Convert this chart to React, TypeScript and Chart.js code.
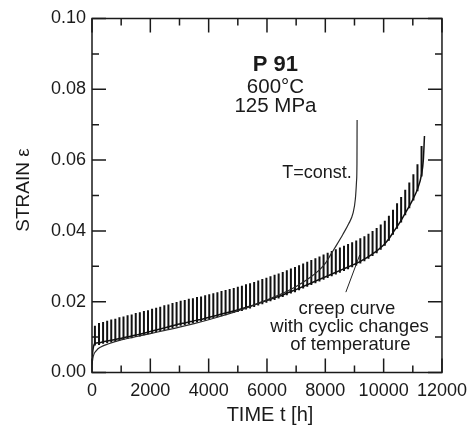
import React, { useEffect, useRef } from "react";
import { Chart, registerables } from "chart.js";

Chart.register(...registerables);

// ---- data (time in h, strain) ----
const constTime = [0, 40, 150, 300, 600, 1000, 1500, 2000, 2500, 3000, 3500, 4000, 4500, 5000, 5500, 6000, 6500, 7000, 7500, 7800, 8000, 8200, 8400, 8600, 8800, 8950, 9030, 9070, 9085, 9090];
const constStrain = [0.0022, 0.0045, 0.0062, 0.0072, 0.0082, 0.0092, 0.0101, 0.011, 0.0119, 0.0128, 0.0138, 0.0149, 0.0161, 0.0174, 0.0189, 0.0205, 0.0222, 0.0243, 0.027, 0.029, 0.0308, 0.0335, 0.0362, 0.039, 0.042, 0.045, 0.049, 0.054, 0.059, 0.0713];

const cycleTime = [
  100, 240, 380, 520, 660, 800, 940, 1080, 1220, 1360,
  1500, 1640, 1780, 1920, 2060, 2200, 2340, 2480, 2620, 2760,
  2900, 3040, 3180, 3320, 3460, 3600, 3740, 3880, 4020, 4160,
  4300, 4440, 4580, 4720, 4860, 5000, 5140, 5280, 5420, 5560,
  5700, 5840, 5980, 6120, 6260, 6400, 6540, 6680, 6820, 6960,
  7100, 7240, 7380, 7520, 7660, 7800, 7940, 8080, 8220, 8360,
  8500, 8640, 8780, 8920, 9060, 9200, 9340, 9480, 9620, 9760,
  9900, 10040, 10180, 10320, 10460, 10600, 10740, 10880, 11020, 11160,
  11300,
];
const cycleBase = [
  0.0082, 0.0084, 0.0087, 0.0089, 0.0091, 0.0093, 0.0096, 0.0098, 0.0101, 0.0103,
  0.0106, 0.0108, 0.0111, 0.0114, 0.0117, 0.012, 0.0123, 0.0126, 0.0129, 0.0132,
  0.0135, 0.0138, 0.014, 0.0143, 0.0145, 0.0148, 0.015, 0.0153, 0.0156, 0.0159,
  0.0162, 0.0165, 0.0168, 0.0171, 0.0174, 0.0177, 0.018, 0.0184, 0.0187, 0.0191,
  0.0195, 0.0199, 0.0203, 0.0207, 0.0211, 0.0215, 0.0219, 0.0224, 0.0229, 0.0233,
  0.0238, 0.0243, 0.0248, 0.0253, 0.0258, 0.0263, 0.0268, 0.0273, 0.0278, 0.0283,
  0.0288, 0.0293, 0.0298, 0.0303, 0.0308, 0.0314, 0.032, 0.0327, 0.0335, 0.0343,
  0.0353, 0.0364, 0.0378, 0.0395, 0.0412, 0.043, 0.045, 0.047, 0.0492, 0.0518,
  0.056,
];
const cycleTop = [
  0.0132, 0.014, 0.0143, 0.0146, 0.015, 0.0152, 0.0156, 0.0158, 0.0162, 0.0164,
  0.0168, 0.017, 0.0174, 0.0176, 0.018, 0.0183, 0.0186, 0.019, 0.0192, 0.0196,
  0.0199, 0.0203, 0.0205, 0.0208, 0.021, 0.0213, 0.0215, 0.0218, 0.0221, 0.0224,
  0.0227, 0.023, 0.0233, 0.0236, 0.0239, 0.0242, 0.0245, 0.0249, 0.0252, 0.0256,
  0.026, 0.0264, 0.0268, 0.0272, 0.0276, 0.028, 0.0284, 0.0289, 0.0294, 0.0298,
  0.0303, 0.0308, 0.0313, 0.0318, 0.0323, 0.0328, 0.0333, 0.0338, 0.0343, 0.0348,
  0.0353, 0.0358, 0.0363, 0.0368, 0.0373, 0.0379, 0.0385, 0.0392, 0.04, 0.0408,
  0.0418, 0.0429, 0.0443, 0.046, 0.0478, 0.0496, 0.0516, 0.0537, 0.056, 0.0588,
  0.064,
];
const cycleStartTime = [0, 40];
const cycleStartStrain = [0.004, 0.0068];
const cycleEndTime = [11360, 11400];
const cycleEndStrain = [0.06, 0.0668];

const pointerTime = [8704, 9180];
const pointerStrain = [0.0227, 0.0332];

const xTicks = [0, 2000, 4000, 6000, 8000, 10000, 12000];
const yTicks = [0, 0.02, 0.04, 0.06, 0.08, 0.1];

const annotations = [
  { text: "P 91", t: 6290, s: 0.0869, bold: true, size: 22, align: "center" },
  { text: "600°C", t: 6290, s: 0.0806, bold: false, size: 20.5, align: "center" },
  { text: "125 MPa", t: 6290, s: 0.0751, bold: false, size: 20.5, align: "center" },
  { text: "T=const.", t: 8908, s: 0.0563, bold: false, size: 18, align: "right" },
  { text: "creep curve", t: 8738, s: 0.0181, bold: false, size: 18.5, align: "center" },
  { text: "with cyclic changes", t: 8830, s: 0.0129, bold: false, size: 18.5, align: "center" },
  { text: "of temperature", t: 8860, s: 0.0078, bold: false, size: 18.5, align: "center" },
];

const FONT = "'Liberation Sans', Arial, Helvetica, sans-serif";
const INK = "#1a1a1a";

const framePlugin = {
  id: "frame",
  afterDraw(chart: any) {
    const { ctx, chartArea: a, scales } = chart;
    const xs = scales.x;
    const ys = scales.y;
    ctx.save();
    ctx.strokeStyle = INK;
    ctx.lineWidth = 1.5;
    ctx.strokeRect(a.left, a.top, a.right - a.left, a.bottom - a.top);
    // inward ticks
    ctx.beginPath();
    for (let v = 0; v <= 12000; v += 1000) {
      const px = xs.getPixelForValue(v);
      const len = v % 2000 === 0 ? 14 : 7;
      ctx.moveTo(px, a.bottom);
      ctx.lineTo(px, a.bottom - len);
      ctx.moveTo(px, a.top);
      ctx.lineTo(px, a.top + len);
    }
    for (let i = 0; i <= 10; i++) {
      const py = ys.getPixelForValue(i * 0.01);
      const len = i % 2 === 0 ? 14 : 7;
      ctx.moveTo(a.left, py);
      ctx.lineTo(a.left + len, py);
      ctx.moveTo(a.right, py);
      ctx.lineTo(a.right - len, py);
    }
    ctx.stroke();

    // annotations
    ctx.fillStyle = INK;
    ctx.textBaseline = "middle";
    for (const an of annotations) {
      ctx.font = `${an.bold ? "bold " : ""}${an.size}px ${FONT}`;
      ctx.textAlign = an.align as CanvasTextAlign;
      ctx.fillText(an.text, xs.getPixelForValue(an.t), ys.getPixelForValue(an.s));
    }
    // axis titles
    ctx.font = `20px ${FONT}`;
    ctx.textAlign = "center";
    ctx.fillText("TIME t [h]", (a.left + a.right) / 2 + 3, a.bottom + 43);
    ctx.save();
    ctx.translate(24, 190);
    ctx.rotate(-Math.PI / 2);
    ctx.font = `19px ${FONT}`;
    ctx.fillText("STRAIN ε", 0, 0);
    ctx.restore();
    ctx.restore();
  },
};

export default function App() {
  const ref = useRef<HTMLCanvasElement | null>(null);
  useEffect(() => {
    if (!ref.current) return;
    const constData = constTime.map((t, i) => ({ x: t, y: constStrain[i] }));
    const baseData: { x: number; y: number }[] = [];
    cycleStartTime.forEach((t, i) => baseData.push({ x: t, y: cycleStartStrain[i] }));
    cycleTime.forEach((t, i) => baseData.push({ x: t, y: cycleBase[i] }));
    cycleEndTime.forEach((t, i) => baseData.push({ x: t, y: cycleEndStrain[i] }));
    const spikeData: { x: number; y: number | null }[] = [];
    cycleTime.forEach((t, i) => {
      spikeData.push({ x: t, y: cycleBase[i] - 0.0006 });
      spikeData.push({ x: t, y: cycleTop[i] });
      spikeData.push({ x: t, y: null });
    });
    const pointerData = pointerTime.map((t, i) => ({ x: t, y: pointerStrain[i] }));

    const chart = new Chart(ref.current, {
      type: "line",
      data: {
        datasets: [
          {
            data: constData,
            borderColor: "#2a2a2a",
            borderWidth: 1.2,
            pointRadius: 0,
            cubicInterpolationMode: "monotone",
          },
          {
            data: baseData,
            borderColor: "#111",
            borderWidth: 1.5,
            pointRadius: 0,
            cubicInterpolationMode: "monotone",
          },
          {
            data: spikeData as any,
            borderColor: "#111",
            borderWidth: 2,
            pointRadius: 0,
            tension: 0,
            spanGaps: false,
          },
          {
            data: pointerData,
            borderColor: "#222",
            borderWidth: 1,
            pointRadius: 0,
            tension: 0,
          },
        ],
      },
      options: {
        animation: false,
        responsive: false,
        layout: { padding: { top: 18.5, right: 30, left: 0, bottom: 0 } },
        plugins: { legend: { display: false }, tooltip: { enabled: false } },
        scales: {
          x: {
            type: "linear",
            min: 0,
            max: 12000,
            afterFit: (s: any) => {
              s.height = 56.5;
            },
            afterBuildTicks: (s: any) => {
              s.ticks = xTicks.map((v) => ({ value: v }));
            },
            grid: { display: false, drawTicks: false },
            border: { display: false },
            ticks: {
              padding: 8,
              maxRotation: 0,
              autoSkip: false,
              color: INK,
              font: { family: FONT, size: 18 },
              callback: (v: any) => String(v),
            },
          },
          y: {
            type: "linear",
            min: 0,
            max: 0.1,
            afterFit: (s: any) => {
              s.width = 92;
            },
            afterBuildTicks: (s: any) => {
              s.ticks = yTicks.map((v) => ({ value: v }));
            },
            grid: { display: false, drawTicks: false },
            border: { display: false },
            ticks: {
              padding: 6,
              autoSkip: false,
              color: INK,
              font: { family: FONT, size: 18 },
              callback: (v: any) => Number(v).toFixed(2),
            },
          },
        },
      },
      plugins: [framePlugin],
    });
    return () => chart.destroy();
  }, []);

  return (
    <div style={{ position: "fixed", left: 0, top: 0, width: 475, height: 429, background: "#fff" }}>
      <canvas ref={ref} width={475} height={429} style={{ display: "block" }} />
    </div>
  );
}
